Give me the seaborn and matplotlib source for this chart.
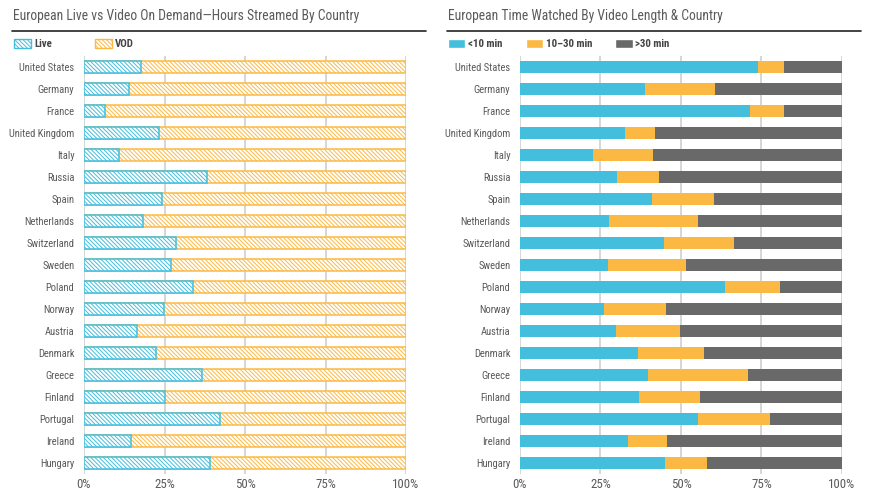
import matplotlib
matplotlib.use("Agg")
import matplotlib.pyplot as plt
import matplotlib.font_manager as fm
import seaborn as sns
import pandas as pd
from matplotlib.patches import Patch

countries = ["United States", "Germany", "France", "United Kingdom", "Italy", "Russia",
             "Spain", "Netherlands", "Switzerland", "Sweden", "Poland", "Norway",
             "Austria", "Denmark", "Greece", "Finland", "Portugal", "Ireland", "Hungary"]

live = [17.6, 14.0, 6.4, 23.2, 10.8, 38.1, 24.1, 18.2, 28.5, 26.9, 33.7, 24.7,
        16.6, 22.5, 36.5, 25.3, 42.1, 14.5, 39.0]
vod = [100 - v for v in live]

short = [74.0, 38.7, 71.3, 32.6, 22.7, 30.2, 41.0, 27.7, 44.8, 27.4, 63.7, 26.1,
         29.8, 36.7, 39.8, 37.0, 55.3, 33.4, 44.9]
mid = [8.1, 22.0, 10.8, 9.4, 18.6, 13.0, 19.3, 27.6, 21.7, 24.2, 17.1, 19.3,
       19.9, 20.5, 31.1, 19.0, 22.4, 12.4, 13.3]
long_ = [100 - s - m for s, m in zip(short, mid)]

xticks = [0, 25, 50, 75, 100]
xticklabels = ["0%", "25%", "50%", "75%", "100%"]

BLUE = "#43BEDD"
ORANGE = "#FBB944"
GRAY = "#69696A"
TXT = "#5a5a5a"
HATCH = "\\\\\\\\\\\\\\\\"

sns.set_style("white")
names = {f.name for f in fm.fontManager.ttflist}
cond_dejavu = any(f.name == "DejaVu Sans" and f.stretch == "condensed" for f in fm.fontManager.ttflist)
family = None
for cand in ["Liberation Sans Narrow", "Roboto Condensed", "Open Sans Condensed", "Noto Sans Condensed"]:
    if cand in names:
        family = cand
        break
if family is None:
    family = "DejaVu Sans" if cond_dejavu else "Roboto"
    if cond_dejavu:
        plt.rcParams['font.stretch'] = 'condensed'
plt.rcParams['font.family'] = [family, 'DejaVu Sans']
plt.rcParams['hatch.linewidth'] = 0.7

fig = plt.figure(figsize=(8.78, 4.98), dpi=100)
W, H = 878, 498
renderer = fig.canvas.get_renderer()


def fit_size(text, target_px, weight="normal", base=10):
    t = fig.text(0, 0, text, fontsize=base, weight=weight)
    w = t.get_window_extent(renderer).width
    t.remove()
    return base * target_px / w


tick_fs = fit_size("United States", 55)
title_fs = fit_size("European Live vs Video On Demand\u2014Hours Streamed By Country", 347)
xt_fs = fit_size("100%", 27)
leg_fs = fit_size("10\u201330 min", 47, weight="bold")

axL = fig.add_axes([84 / W, 1 - 474 / H, 322 / W, 418 / H])
axR = fig.add_axes([520 / W, 1 - 474 / H, 322 / W, 418 / H])

df = pd.DataFrame({"country": countries, "live": live, "vod": vod,
                   "short": short, "mid": mid, "long": long_})
df["total_lv"] = df["live"] + df["vod"]
df["cum_mid"] = df["short"] + df["mid"]
df["cum_all"] = df["cum_mid"] + df["long"]

# Left chart: hatched
sns.barplot(data=df, y="country", x="total_lv", orient="h", ax=axL, color="white",
            width=0.54, saturation=1)
for p in axL.patches:
    p.set_facecolor("white")
    p.set_edgecolor(ORANGE)
    p.set_hatch(HATCH)
    p.set_linewidth(1.1)
n0 = len(axL.patches)
sns.barplot(data=df, y="country", x="live", orient="h", ax=axL, color="white",
            width=0.54, saturation=1)
for p in axL.patches[n0:]:
    p.set_facecolor("white")
    p.set_edgecolor(BLUE)
    p.set_hatch(HATCH)
    p.set_linewidth(1.1)

# Right chart: stacked
sns.barplot(data=df, y="country", x="cum_all", orient="h", ax=axR, color=GRAY,
            width=0.58, saturation=1, linewidth=0)
sns.barplot(data=df, y="country", x="cum_mid", orient="h", ax=axR, color=ORANGE,
            width=0.58, saturation=1, linewidth=0)
sns.barplot(data=df, y="country", x="short", orient="h", ax=axR, color=BLUE,
            width=0.58, saturation=1, linewidth=0)

for ax in (axL, axR):
    ax.set_xlim(0, 100)
    ax.set_ylim(18.5, -0.5)
    ax.set_xticks(xticks)
    ax.set_xticklabels(xticklabels)
    ax.set_xlabel("")
    ax.set_ylabel("")
    for s in ax.spines.values():
        s.set_visible(False)
    ax.grid(axis="x", color="#cfcfcf", linewidth=1.2)
    ax.grid(axis="y", visible=False)
    ax.set_axisbelow(True)
    ax.tick_params(axis="both", length=0, colors=TXT)
    ax.tick_params(axis="y", pad=7, labelsize=tick_fs)
    ax.tick_params(axis="x", pad=3, labelsize=xt_fs)

# Titles and rules
fig.text(13 / W, 1 - 16 / H, "European Live vs Video On Demand\u2014Hours Streamed By Country",
         fontsize=title_fs, color=TXT, va="center", ha="left")
fig.text(448 / W, 1 - 16 / H, "European Time Watched By Video Length & Country",
         fontsize=title_fs, color=TXT, va="center", ha="left")
fig.add_artist(plt.Line2D([12 / W, 426 / W], [1 - 31 / H, 1 - 31 / H], color="#222222", lw=1.2))
fig.add_artist(plt.Line2D([447 / W, 861 / W], [1 - 31 / H, 1 - 31 / H], color="#222222", lw=1.2))

# Legends
legL = [Patch(facecolor="white", edgecolor=BLUE, hatch=HATCH, label="Live"),
        Patch(facecolor="white", edgecolor=ORANGE, hatch=HATCH, label="VOD")]
fig.legend(handles=legL, loc="center left", bbox_to_anchor=(14 / W, 1 - 44 / H), ncol=2,
           frameon=False, prop={"weight": "bold", "size": leg_fs}, labelcolor="#444444",
           handlelength=1.6, handleheight=1.0, handletextpad=0.25, columnspacing=3.9,
           borderaxespad=0, borderpad=0)
legR = [Patch(facecolor=BLUE, label="<10 min"),
        Patch(facecolor=ORANGE, label="10\u201330 min"),
        Patch(facecolor=GRAY, label=">30 min")]
fig.legend(handles=legR, loc="center left", bbox_to_anchor=(448 / W, 1 - 44 / H), ncol=3,
           frameon=False, prop={"weight": "bold", "size": leg_fs}, labelcolor="#444444",
           handlelength=1.6, handleheight=1.0, handletextpad=0.25, columnspacing=2.1,
           borderaxespad=0, borderpad=0)

fig.savefig("out.png", dpi=100)
